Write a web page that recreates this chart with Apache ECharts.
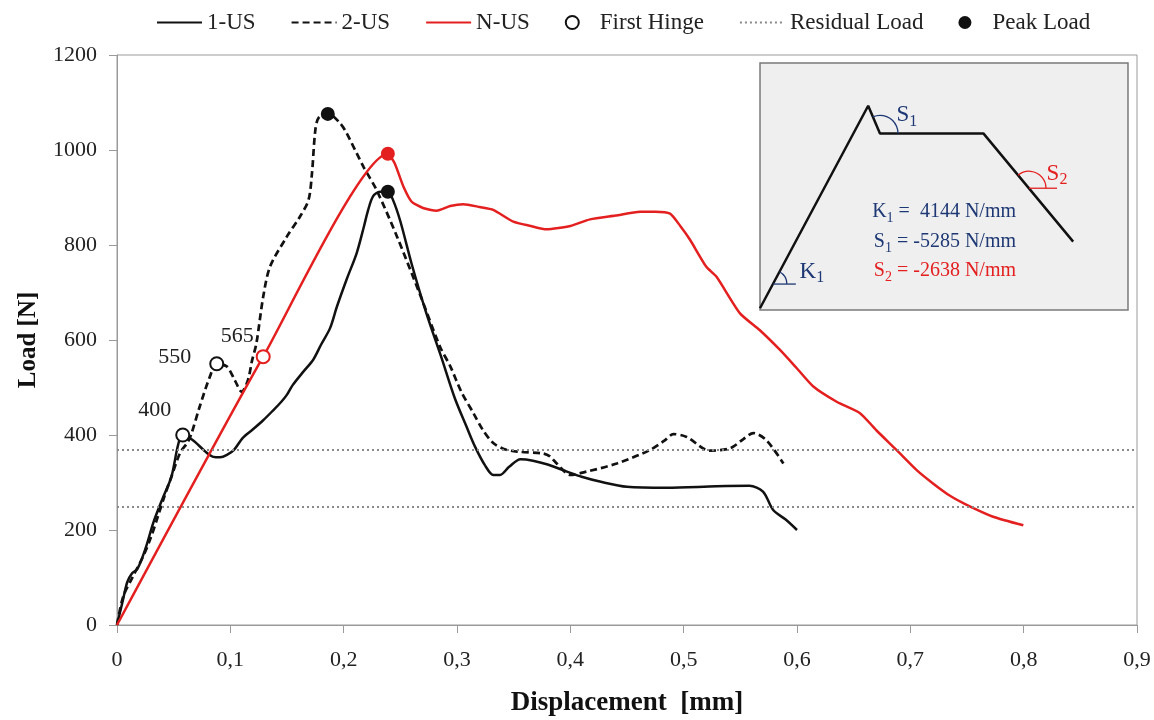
<!DOCTYPE html>
<html>
<head>
<meta charset="utf-8">
<script src="https://cdn.jsdelivr.net/npm/echarts@6/dist/echarts.min.js"></script>
<style>
html,body{margin:0;padding:0;background:#fff;}
#chart{width:1154px;height:720px;}
</style>
</head>
<body>
<div id="chart"></div>
<script>
// load - displacement curves ([mm, N])
var us1 = [[0,0],[0.005,50],[0.009,90],[0.013,108],[0.018,118],[0.025,160],[0.032,215],[0.040,265],[0.048,312],
  [0.053,370],[0.056,396],[0.058,400],[0.067,389],[0.078,365],[0.085,354],[0.091,353],[0.097,358],[0.103,368],
  [0.111,394],[0.120,412],[0.129,431],[0.137,450],[0.145,470],[0.150,485],[0.155,505],[0.165,535],[0.173,558],
  [0.180,590],[0.188,625],[0.194,670],[0.203,730],[0.2115,783],[0.218,840],[0.2215,873],[0.226,903],[0.232,912],
  [0.239,912],[0.2435,895],[0.250,850],[0.260,760],[0.273,656],[0.286,565],[0.298,478],[0.308,420],[0.316,375],
  [0.325,335],[0.332,316],[0.338,316],[0.346,333],[0.356,349],[0.367,346],[0.380,338],[0.397,323],[0.410,312],
  [0.426,302],[0.450,291],[0.485,289],[0.529,292],[0.558,293],[0.570,281],[0.579,242],[0.590,222],[0.600,200]];

var us2 = [[0,0],[0.0055,60],[0.014,102],[0.023,144],[0.030,185],[0.036,228],[0.042,272],[0.048,312],[0.0556,362],
  [0.0627,386],[0.066,405],[0.073,460],[0.082,523],[0.088,550],[0.097,544],[0.104,515],[0.110,491],[0.1156,516],
  [0.119,555],[0.123,593],[0.129,691],[0.135,754],[0.1497,817],[0.1615,860],[0.169,895],[0.172,950],[0.175,1042],
  [0.178,1068],[0.1865,1076],[0.197,1056],[0.2027,1035],[0.2174,965],[0.229,916],[0.247,818],[0.267,698],
  [0.285,586],[0.294,545],[0.304,490],[0.3145,446],[0.323,410],[0.332,383],[0.342,370],[0.353,365],[0.376,361],
  [0.382,355],[0.388,340],[0.400,316],[0.4145,323],[0.441,340],[0.470,368],[0.483,388],[0.491,402],[0.5026,396],
  [0.523,367],[0.541,372],[0.553,392],[0.5615,404],[0.573,389],[0.588,340]];

var usN = [[0,0],[0.129,565],[0.239,992],[0.245,972],[0.2527,923],[0.260,891],[0.270,878],[0.282,872],[0.294,882],
  [0.3056,886],[0.320,880],[0.332,874],[0.3497,849],[0.365,840],[0.379,833],[0.400,840],[0.4174,854],[0.440,862],
  [0.4615,870],[0.475,870],[0.488,866],[0.497,840],[0.5056,811],[0.520,754],[0.529,733],[0.5497,656],[0.567,621],
  [0.585,579],[0.600,540],[0.6144,502],[0.635,470],[0.6556,446],[0.670,410],[0.688,368],[0.7056,326],[0.720,298],
  [0.735,272],[0.7497,253],[0.773,228],[0.7997,210]];

var firstHinge = [[0.058,400],[0.088,550],[0.129,565]];
var peakLoad = [[0.186,1076],[0.239,912],[0.239,992]];
var residualLoads = [370, 250];

// inset: idealised curve in its own 0..100 units
var schematic = [[0,0.7],[29.4,82.7],[32.6,71.5],[60.7,71.5],[85.1,27.7]];
var stiffness = ['K', '1', '4144'];
var slope1 = ['S', '1', '-5285'];
var slope2 = ['S', '2', '-2638'];

var SERIF = 'Liberation Serif';
var RED = '#e3201f';
var NAVY = '#1d3874';
var hingeColors = ['#111', '#111', RED];
var peakColors = ['#111', '#111', RED];
var hingeOffsets = [[-28,-25],[-42,-7],[-26,-20]];

var chart = echarts.init(document.getElementById('chart'));

function fmtX(v){
  if (v === 0) return '0';
  return v.toFixed(1).replace('.', ',');
}

// line entries in the legend: hide the dot ECharts puts on the line icon
function lineItem(name){ return {name: name, itemStyle: {opacity: 0}}; }

var option = {
  backgroundColor: '#fff',
  animation: false,
  legend: {
    top: 6,
    left: 151,
    itemWidth: 45,
    itemHeight: 13,
    itemGap: 35,
    textStyle: {fontFamily: SERIF, fontSize: 23, color: '#222'},
    data: [lineItem('1-US'), lineItem('2-US'), lineItem('N-US'), 'First Hinge', lineItem('Residual Load'), 'Peak Load']
  },
  grid: [{
    left: 117, right: 17, top: 55, bottom: 95,
    show: true, borderColor: '#9a9a9a', borderWidth: 1,
    outerBoundsMode: 'none'
  }, {
    left: 760, top: 63, width: 368, height: 247,
    show: true, backgroundColor: '#efefef', borderColor: '#7a7a7a', borderWidth: 1.5,
    outerBoundsMode: 'none'
  }],
  xAxis: [{
    type: 'value', min: 0, max: 0.9, interval: 0.1,
    name: 'Displacement  [mm]', nameLocation: 'middle', nameGap: 65,
    nameTextStyle: {fontFamily: SERIF, fontSize: 27, fontWeight: 'bold', color: '#111'},
    axisLine: {show: true, lineStyle: {color: '#9a9a9a', width: 1}},
    axisTick: {show: true, length: 8, lineStyle: {color: '#9a9a9a'}},
    axisLabel: {margin: 24, fontFamily: SERIF, fontSize: 22, color: '#222', formatter: fmtX},
    splitLine: {show: false}
  }, {
    gridIndex: 1, type: 'value', min: 0, max: 100, show: false
  }],
  yAxis: [{
    type: 'value', min: 0, max: 1200, interval: 200,
    name: 'Load [N]', nameLocation: 'middle', nameGap: 76,
    nameTextStyle: {fontFamily: SERIF, fontSize: 25, fontWeight: 'bold', color: '#111'},
    axisLine: {show: true, lineStyle: {color: '#9a9a9a', width: 1}},
    axisTick: {show: true, length: 8, lineStyle: {color: '#9a9a9a'}},
    axisLabel: {margin: 20, fontFamily: SERIF, fontSize: 22, color: '#222',
      formatter: function(v){ return String(v); }},
    splitLine: {show: false}
  }, {
    gridIndex: 1, type: 'value', min: 0, max: 100, show: false
  }],
  series: [
    {
      name: 'Residual Load', type: 'line', data: [], symbol: 'none',
      itemStyle: {color: '#8a8a8a'},
      lineStyle: {color: '#8a8a8a', type: [2, 3], width: 2},
      markLine: {
        silent: true, symbol: 'none', label: {show: false},
        lineStyle: {color: '#8a8a8a', type: [2, 3], width: 2},
        data: residualLoads.map(function(v){ return {yAxis: v}; })
      }
    },
    {
      name: '1-US', type: 'line', data: us1, symbol: 'none', smooth: 0.3,
      itemStyle: {color: '#111'}, lineStyle: {color: '#111', width: 2.5}, z: 3
    },
    {
      name: '2-US', type: 'line', data: us2, symbol: 'none', smooth: 0.3,
      itemStyle: {color: '#111'}, lineStyle: {color: '#111', width: 2.7, type: [7, 4]}, z: 3
    },
    {
      name: 'N-US', type: 'line', data: usN, symbol: 'none', smooth: 0.2,
      itemStyle: {color: RED}, lineStyle: {color: RED, width: 2.5}, z: 3
    },
    {
      name: 'First Hinge', type: 'scatter', symbol: 'emptyCircle', symbolSize: 13, z: 5,
      itemStyle: {color: '#111', borderWidth: 2.5, opacity: 1},
      data: firstHinge.map(function(p, i){
        return {
          value: p,
          itemStyle: {color: hingeColors[i], borderColor: hingeColors[i], opacity: 1},
          label: {offset: hingeOffsets[i]}
        };
      }),
      label: {
        show: true, position: 'inside',
        fontFamily: SERIF, fontSize: 22, color: '#222',
        formatter: function(p){ return p.value[1]; }
      }
    },
    {
      name: 'Peak Load', type: 'scatter', symbol: 'circle', symbolSize: 14, z: 5,
      itemStyle: {color: '#111', opacity: 1},
      data: peakLoad.map(function(p, i){
        return {value: p, itemStyle: {color: peakColors[i], opacity: 1}};
      })
    },
    {
      name: 'schematic', type: 'line', xAxisIndex: 1, yAxisIndex: 1,
      data: schematic, symbol: 'none', silent: true,
      lineStyle: {color: '#111', width: 2.5}, z: 4
    }
  ]
};

chart.setOption(option);

// inset decorations: angle arcs and formula text, placed from the inset axes
function px(p){ return chart.convertToPixel({gridIndex: 1}, p); }
function ang(a, b){ var pa = px(a), pb = px(b); return Math.atan2(pb[1] - pa[1], pb[0] - pa[0]); }

function subText(parts, color, size){
  var t = '{m|' + parts[0] + '}{s|' + parts[1] + '}';
  if (parts.length > 2) t += '{m|' + parts[2] + '}';
  return {
    text: t,
    rich: {
      m: {fontFamily: SERIF, fontSize: size, fill: color},
      s: {fontFamily: SERIF, fontSize: Math.round(size * 0.68), fill: color, padding: [12, 0, 0, 0]}
    }
  };
}

var kC = [3.5, 10.5];
var s1C = schematic[2];
var s2C = [73.1, 49.3];
var kP = px(kC), s1P = px(s1C), s2P = px(s2C);

var graphics = [
  {type: 'arc', shape: {cx: kP[0], cy: kP[1], r: 14, startAngle: ang(kC, schematic[1]), endAngle: 0, clockwise: true},
   style: {stroke: NAVY, fill: null, lineWidth: 1.3}, z: 10},
  {type: 'line', shape: {x1: kP[0], y1: kP[1], x2: kP[0] + 23, y2: kP[1]}, style: {stroke: NAVY, lineWidth: 1.3}, z: 10},
  {type: 'arc', shape: {cx: s1P[0], cy: s1P[1], r: 18, startAngle: ang(s1C, schematic[1]), endAngle: 0, clockwise: true},
   style: {stroke: NAVY, fill: null, lineWidth: 1.3}, z: 10},
  {type: 'arc', shape: {cx: s2P[0], cy: s2P[1], r: 17, startAngle: ang(s2C, schematic[3]), endAngle: 0, clockwise: true},
   style: {stroke: RED, fill: null, lineWidth: 1.3}, z: 10},
  {type: 'line', shape: {x1: s2P[0], y1: s2P[1], x2: s2P[0] + 28, y2: s2P[1]}, style: {stroke: RED, lineWidth: 1.3}, z: 10}
];

function label(x, y, parts, color, size, align){
  var st = subText(parts, color, size);
  st.align = align || 'center';
  st.verticalAlign = 'middle';
  return {type: 'text', x: x, y: y, z: 11, style: st};
}

graphics.push(label(kP[0] + 39, kP[1] - 12, ['K', '1'], NAVY, 23));
graphics.push(label(s1P[0] + 27, s1P[1] - 18, ['S', '1'], NAVY, 23));
graphics.push(label(s2P[0] + 28, s2P[1] - 14, ['S', '2'], RED, 23));
graphics.push(label(1016, 212, [stiffness[0], stiffness[1], ' =  ' + stiffness[2] + ' N/mm'], NAVY, 20, 'right'));
graphics.push(label(1016, 242, [slope1[0], slope1[1], ' = ' + slope1[2] + ' N/mm'], NAVY, 20, 'right'));
graphics.push(label(1016, 271, [slope2[0], slope2[1], ' = ' + slope2[2] + ' N/mm'], RED, 20, 'right'));

chart.setOption({graphic: graphics});
</script>
</body>
</html>
